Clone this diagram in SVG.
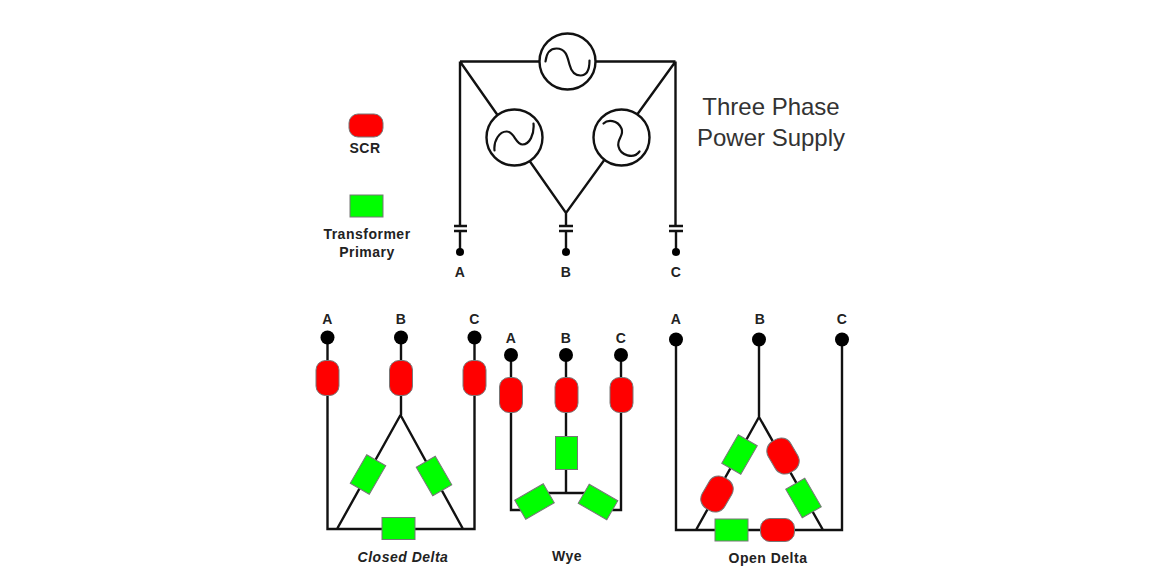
<svg xmlns="http://www.w3.org/2000/svg" width="1171" height="574" viewBox="0 0 1171 574">
<style>
.w{fill:none;stroke:#111;stroke-width:2.4;stroke-linejoin:miter}
.src{fill:#fff;stroke:#111;stroke-width:2.4}
.wave{fill:none;stroke:#111;stroke-width:2.2;stroke-linecap:round}
.d{fill:#000}
.scr{fill:#f00;stroke:#777;stroke-width:1}
.xf{fill:#0f0;stroke:#777;stroke-width:1}
text{font-family:"Liberation Sans",Arial,sans-serif;fill:#222}
.l{font-size:14px;font-weight:bold;text-anchor:middle;letter-spacing:.5px}
.t{font-size:24px;text-anchor:middle;fill:#333}
</style>
<defs>
<rect id="sv" class="scr" x="-11.500" y="-17.500" width="23" height="35" rx="9.500" ry="9.500"/>
<rect id="sh" class="scr" x="-17" y="-11.500" width="34" height="23" rx="9.500" ry="9.500"/>
<rect id="svb" class="scr" x="-13" y="-18" width="26" height="36" rx="11" ry="11"/>
<rect id="x" class="xf" x="-11" y="-16.500" width="22" height="33"/>
<rect id="xh" class="xf" x="-16.500" y="-11" width="33" height="22"/>
</defs>
<g id="connectors">
<path class="w" d="M460,61.500H675.500M460,61.500V226M675.500,61.500V226M460,61.500L566,213L675.500,61.500M566,213V226"/>
<path class="w" d="M454,226H467M454,231H467M559,226H573M559,231H573M669,226H683M669,231H683M460,231V252M566,231V252M676,231V252"/>
<path class="w" d="M327.500,337.500V529H474.500V337.500M401,337.500V415M400.500,415L337,529M400.500,415L463,529"/>
<path class="w" d="M511,355V510H526M621,355V510H606M566,355V493M534,493H598"/>
<path class="w" d="M676,339.500V530H842V339.500M759,339.500V417M759,417L696,530M759,417L823,530"/>
</g>
<g id="source-top"><circle class="src" cx="567.500" cy="61.500" r="28"/><path class="wave" transform="translate(567.500,61.500)" d="M-22,0C-21,-9,-17,-13,-11,-13C-1,-13,0,-4,2,3C4,11,8,14,13,14C19,14,22,8,22,-1"/></g>
<g id="source-left"><circle class="src" cx="514.500" cy="137.500" r="28"/><path class="wave" transform="translate(514.500,137.500)" d="M-20,13C-21,3,-15,-6,-8,-6C0,-6,1,7,8,7C15,7,20,-3,19,-14"/></g>
<g id="source-right"><circle class="src" cx="621.500" cy="137.500" r="28"/><path class="wave" transform="translate(621.500,137.500)" d="M-18,-14C-14,-18,-4,-18,0,-9C3,-2,-5,2,-3,9C-1,18,12,22,18,14"/></g>
<g id="supply-terminals">
<circle class="d" cx="460" cy="252" r="4"/><circle class="d" cx="566" cy="252" r="4"/><circle class="d" cx="676" cy="252" r="4"/>
<text class="l" x="460" y="276.500">A</text><text class="l" x="566" y="276.500">B</text><text class="l" x="676" y="276.500">C</text>
</g>
<g id="title"><text class="t" x="771" y="114.500">Three Phase</text><text class="t" x="771" y="145.500">Power Supply</text></g>
<g id="legend-scr"><rect class="scr" x="349" y="114" width="34" height="23" rx="9" ry="9"/><text class="l" x="365" y="152.500">SCR</text></g>
<g id="legend-transformer"><rect class="xf" x="350" y="195" width="33" height="22"/><text class="l" x="367" y="238.500">Transformer</text><text class="l" x="367" y="256.500">Primary</text></g>
<g id="closed-delta">
<circle class="d" cx="327.500" cy="337.500" r="7"/><circle class="d" cx="401" cy="337.500" r="7"/><circle class="d" cx="474.500" cy="337.500" r="7"/>
<text class="l" x="327.500" y="324">A</text><text class="l" x="401" y="324">B</text><text class="l" x="474.500" y="324">C</text>
<use href="#sv" x="327.500" y="378"/><use href="#sv" x="401" y="378"/><use href="#sv" x="474.500" y="378"/>
<use href="#x" transform="translate(368,474.500) rotate(30)"/>
<use href="#x" transform="translate(434,476) rotate(-30)"/>
<use href="#xh" x="398.500" y="528.500"/>
<text class="l" x="403" y="561.500" font-style="italic">Closed Delta</text>
</g>
<g id="wye">
<circle class="d" cx="511" cy="355" r="7"/><circle class="d" cx="566" cy="355" r="7"/><circle class="d" cx="621" cy="355" r="7"/>
<text class="l" x="511" y="343">A</text><text class="l" x="566" y="343">B</text><text class="l" x="621" y="343">C</text>
<use href="#sv" x="511" y="395"/><use href="#sv" x="566.500" y="395"/><use href="#sv" x="621.500" y="395"/>
<use href="#x" x="566.500" y="453"/>
<use href="#xh" transform="translate(534.500,501.500) rotate(-30)"/>
<use href="#xh" transform="translate(598,502) rotate(30)"/>
<text class="l" x="567" y="560.500">Wye</text>
</g>
<g id="open-delta">
<circle class="d" cx="676" cy="339.500" r="7"/><circle class="d" cx="759" cy="339.500" r="7"/><circle class="d" cx="842" cy="339.500" r="7"/>
<text class="l" x="676" y="324">A</text><text class="l" x="760" y="324">B</text><text class="l" x="842" y="324">C</text>
<use href="#x" transform="translate(739.500,454.500) rotate(30)"/>
<use href="#svb" transform="translate(717,494) rotate(30)"/>
<use href="#svb" transform="translate(783,456) rotate(-30)"/>
<use href="#x" transform="translate(803.500,498) rotate(-30)"/>
<use href="#xh" x="731.500" y="530"/>
<use href="#sh" x="777.500" y="530"/>
<text class="l" x="768" y="563">Open Delta</text>
</g>
</svg>
